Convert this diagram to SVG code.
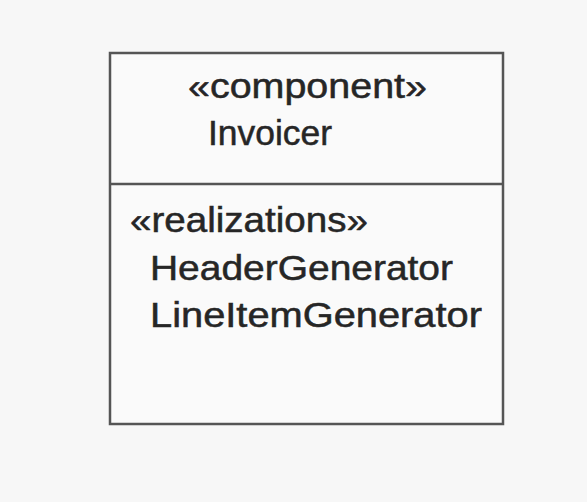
<svg xmlns="http://www.w3.org/2000/svg" width="587" height="502" viewBox="0 0 587 502">
<style>
.t{font-family:"Liberation Sans",Arial,sans-serif;font-size:34.5px;fill:#262626;stroke:#262626;stroke-width:0.5}
.b{fill:#fafafa;stroke:#555;stroke-width:2.5}
</style>
<rect width="587" height="502" fill="#f7f7f7"/>
<g id="invoicer">
<rect class="b" x="110" y="53" width="393" height="371"/>
<line x1="110" y1="184" x2="503" y2="184" stroke="#555" stroke-width="2.5"/>
<text class="t" x="188" y="98" textLength="239" lengthAdjust="spacingAndGlyphs">«component»</text>
<text class="t" x="208" y="145" textLength="124" lengthAdjust="spacingAndGlyphs">Invoicer</text>
<text class="t" x="130" y="232" textLength="238" lengthAdjust="spacingAndGlyphs">«realizations»</text>
<text class="t" x="150" y="280" textLength="303" lengthAdjust="spacingAndGlyphs">HeaderGenerator</text>
<text class="t" x="150" y="327" textLength="332" lengthAdjust="spacingAndGlyphs">LineItemGenerator</text>
</g>
</svg>
